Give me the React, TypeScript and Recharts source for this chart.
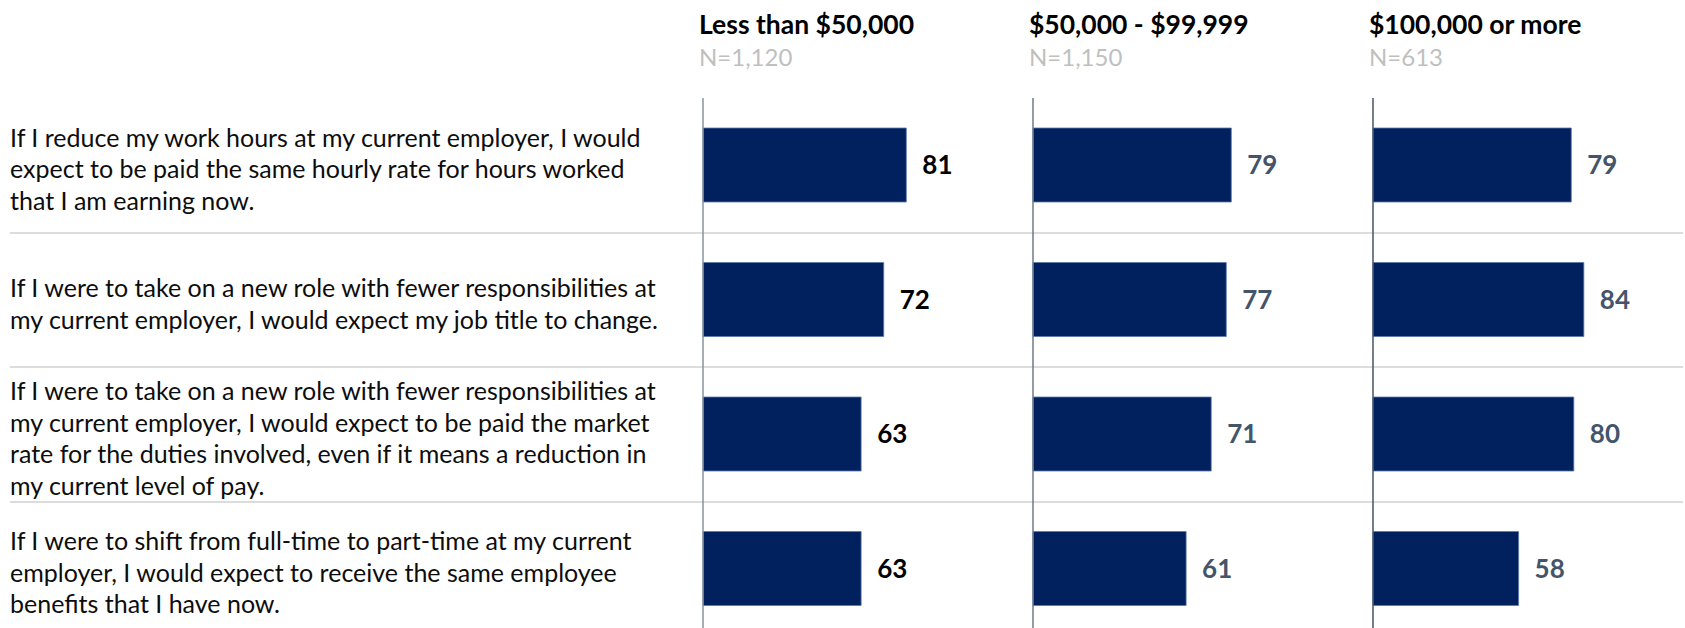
import React from "react";
import { BarChart, Bar, XAxis, YAxis, LabelList } from "recharts";

// survey statements, one array of lines per row (line breaks as in the source)
const statementLines: string[][] = [
    [
        "If I reduce my work hours at my current employer, I would",
        "expect to be paid the same hourly rate for hours worked",
        "that I am earning now.",
    ],
    [
        "If I were to take on a new role with fewer responsibilities at",
        "my current employer, I would expect my job title to change.",
    ],
    [
        "If I were to take on a new role with fewer responsibilities at",
        "my current employer, I would expect to be paid the market",
        "rate for the duties involved, even if it means a reduction in",
        "my current level of pay.",
    ],
    [
        "If I were to shift from full-time to part-time at my current",
        "employer, I would expect to receive the same employee",
        "benefits that I have now.",
    ],
];

const groupTitles = ["Less than $50,000", "$50,000 - $99,999", "$100,000 or more"];
const groupSizes = ["N=1,120", "N=1,150", "N=613"];

const lessThan50k = [81, 72, 63, 63];
const from50kTo99k = [79, 77, 71, 61];
const over100k = [79, 84, 80, 58];

const rows = statementLines.map((lines, i) => ({
    id: `s${i}`,
    text: lines.join(" "),
    low: lessThan50k[i],
    mid: from50kTo99k[i],
    high: over100k[i],
}));

const FONT = "Lato, 'Open Sans', sans-serif";
const NAVY = "#01205e";
const TOP = 98;
const ROW_H = 134.5;
const CHART_H = TOP + ROW_H * rows.length;
const PLOT_W = 251; // 0..100
const PANEL_X = [703, 1033, 1373];
const PAGE_W = 1685;

function StatementTick(props: any) {
    const { y, payload } = props;
    const idx = rows.findIndex(r => r.id === payload.value);
    const lines = idx >= 0 ? statementLines[idx] : [];
    const lh = 31.5;
    return (
        <g>
            {lines.map((line, i) => (
                <text
                    key={i}
                    x={10}
                    y={y + 3 + (i - (lines.length - 1) / 2) * lh}
                    textAnchor="start"
                    dominantBaseline="central"
                    fill="#0d0d0d"
                    fontSize={25}
                    fontFamily={FONT}
                >
                    {line}
                </text>
            ))}
        </g>
    );
}

const panels = [
    { key: "low", valueColor: "#000000", axisColor: "#8a939c" },
    { key: "mid", valueColor: "#44546a", axisColor: "#6f7b88" },
    { key: "high", valueColor: "#44546a", axisColor: "#44546a" },
];

export default function App() {
    return (
        <div
            style={{
                position: "absolute",
                left: 0,
                top: 0,
                width: PAGE_W,
                height: 628,
                overflow: "hidden",
                background: "#fff",
                fontFamily: FONT,
            }}
        >
            {rows.slice(1).map((r, i) => (
                <div
                    key={r.id}
                    style={{
                        position: "absolute",
                        left: 10,
                        width: PAGE_W - 12,
                        top: TOP + ROW_H * (i + 1) - 1,
                        height: 2,
                        background: "#dcdcdc",
                    }}
                />
            ))}

            {groupTitles.map((title, i) => (
                <div key={title} style={{ position: "absolute", left: PANEL_X[i] - 4, top: 8 }}>
                    <div style={{ fontSize: 26.5, fontWeight: 700, color: "#000", lineHeight: "32px" }}>{title}</div>
                    <div style={{ fontSize: 24, color: "#bfbfbf", lineHeight: "30px", marginTop: 2 }}>
                        {groupSizes[i]}
                    </div>
                </div>
            ))}

            {panels.map((p, i) => {
                const first = i === 0;
                const left = first ? 0 : PANEL_X[i] - 1;
                const right = i < 2 ? PANEL_X[i + 1] : PAGE_W;
                const yWidth = first ? PANEL_X[0] : 1;
                const width = right - left;
                return (
                    <div key={p.key} style={{ position: "absolute", left, top: 0 }}>
                        <BarChart
                            layout="vertical"
                            width={width}
                            height={CHART_H}
                            data={rows}
                            margin={{ top: TOP, right: width - yWidth - PLOT_W, bottom: 0, left: 0 }}
                            barCategoryGap={0}
                        >
                            <XAxis type="number" domain={[0, 100]} hide />
                            <YAxis
                                type="category"
                                dataKey="id"
                                width={yWidth}
                                tickLine={false}
                                axisLine={{ stroke: p.axisColor, strokeWidth: 1.5 }}
                                tick={first ? <StatementTick /> : false}
                                interval={0}
                            />
                            <Bar
                                dataKey={p.key}
                                fill={NAVY}
                                stroke="#5d77a8"
                                strokeWidth={0.8}
                                barSize={74}
                                isAnimationActive={false}
                            >
                                <LabelList
                                    dataKey={p.key}
                                    position="right"
                                    offset={16}
                                    fill={p.valueColor}
                                    fontSize={26}
                                    fontWeight={700}
                                    fontFamily={FONT}
                                />
                            </Bar>
                        </BarChart>
                    </div>
                );
            })}
        </div>
    );
}
